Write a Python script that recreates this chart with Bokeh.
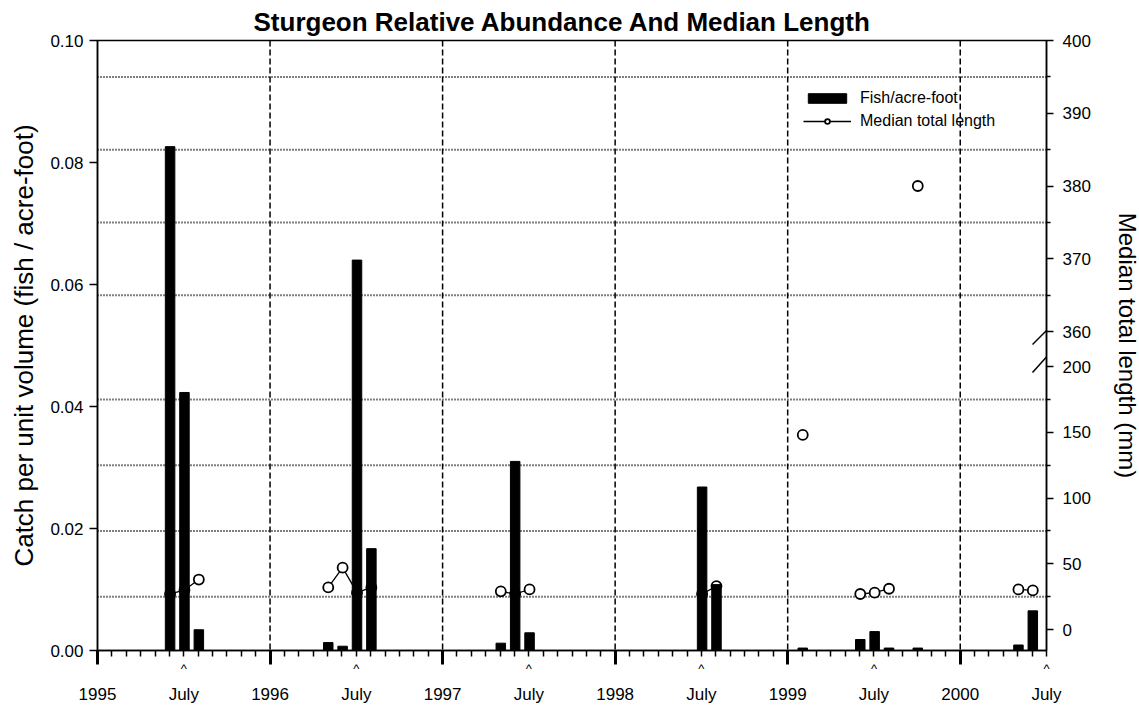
import numpy as np
from bokeh.plotting import figure
from bokeh.models import (Range1d, LinearAxis, FixedTicker, Span, Legend,
                          LegendItem, Arrow)
from bokeh.embed import file_html
from bokeh.resources import INLINE

# ---------------- data ----------------
sample_year  = [1995, 1995, 1995, 1996, 1996, 1996, 1996, 1997, 1997, 1997,
                1998, 1998, 1999, 1999, 1999, 1999, 1999, 2000, 2000]
sample_month = [6, 7, 8, 5, 6, 7, 8, 5, 6, 7,
                7, 8, 2, 6, 7, 8, 10, 5, 6]
fish_per_acre_foot = [0.0826, 0.0423, 0.0034, 0.0013, 0.0007, 0.0640, 0.0167,
                      0.0012, 0.0310, 0.0029, 0.0268, 0.0108, 0.0004, 0.0018,
                      0.0031, 0.0004, 0.0004, 0.0009, 0.0065]
median_length_mm = [27, 30, 38, 32, 47, 28, 32, 29, 27, 30.5,
                    27, 33, 148, 27, 28, 31, 380, 30.5, 29.7]

years = [1995, 1996, 1997, 1998, 1999, 2000]
left_ticks = [0.0, 0.02, 0.04, 0.06, 0.08, 0.10]
left_tick_labels = ["0.00", "0.02", "0.04", "0.06", "0.08", "0.10"]
right_major_ticks = [0, 50, 100, 150, 200, 360, 370, 380, 390, 400]
right_minor_ticks = [25, 75, 125, 175, 365, 375, 385, 395]

title = "Sturgeon Relative Abundance And Median Length"
left_title = "Catch per unit volume (fish / acre-foot)"
right_title = "Median total length (mm)"
FONT = "Liberation Sans"

# ---------------- broken right axis mapping ----------------
def len_to_disp(L):
    L = np.asarray(L, dtype=float)
    return np.where(L <= 280, 21 + 1.315 * L, 319 + 7.275 * (L - 360))

x = np.array(sample_year) + (np.array(sample_month) - 1) / 12.0 + 0.004
disp = len_to_disp(median_length_mm)

# line: break where samples are not in consecutive months
lx, ly = [], []
for i in range(len(x)):
    if i > 0:
        gap = (sample_year[i] - sample_year[i - 1]) * 12 + sample_month[i] - sample_month[i - 1]
        if gap != 1:
            lx.append(np.nan); ly.append(np.nan)
    lx.append(x[i]); ly.append(disp[i])

p = figure(frame_width=949, frame_height=610,
           x_range=Range1d(1995, 2000.5), y_range=Range1d(0, 0.1),
           output_backend="svg", toolbar_location=None,
           x_axis_location=None,
           min_border_left=97, min_border_right=88, min_border_top=30,
           min_border_bottom=0)
p.extra_y_ranges = {"len": Range1d(0, 610)}
p.xgrid.visible = False
p.ygrid.visible = False
p.outline_line_color = "black"
p.outline_line_width = 1.5
p.background_fill_color = "white"
p.border_fill_color = "white"

p.title.text = title
p.title.align = "left"
p.title.offset = 156
p.title.standoff = 8
p.title.text_font = FONT
p.title.text_font_size = "26px"
p.title.text_font_style = "bold"
p.title.text_color = "black"

# gridlines
for yv in len_to_disp(right_minor_ticks):
    p.add_layout(Span(location=float(yv), dimension="width", y_range_name="len",
                      line_color="black", line_width=2, line_dash="1 2",
                      level="underlay"))
for yr in years[1:]:
    p.add_layout(Span(location=yr, dimension="height", line_color="black",
                      line_width=1.5, line_dash="6 3", level="underlay"))

# median length (drawn under bars)
lr = p.line(lx, ly, y_range_name="len", line_color="black", line_width=1.3)
cr = p.scatter(x, disp, y_range_name="len", marker="circle", size=10,
               fill_color="white", line_color="black", line_width=1.8)

# bars
br = p.vbar(x=x, top=fish_per_acre_foot, width=0.055, bottom=0,
            fill_color="black", line_color="black")

# ---------------- axes ----------------
yl = p.yaxis[0]
yl.ticker = FixedTicker(ticks=left_ticks)
yl.major_label_overrides = {t: s for t, s in zip(left_ticks, left_tick_labels)}
yl.major_tick_out = 8
yl.major_tick_in = 0
yl.minor_tick_line_color = None
yl.axis_line_width = 1.5
yl.major_tick_line_width = 1.5
yl.major_label_text_font = FONT
yl.major_label_text_font_size = "17px"
yl.major_label_text_color = "black"
yl.major_label_standoff = 6
yl.axis_label = left_title
yl.axis_label_text_font = FONT
yl.axis_label_text_font_size = "26px"
yl.axis_label_text_font_style = "normal"
yl.axis_label_text_color = "black"
yl.axis_label_standoff = 8

rd = [float(round(v, 3)) for v in len_to_disp(right_major_ticks)]
rm = [float(round(v, 3)) for v in len_to_disp(right_minor_ticks)]
yr_ax = LinearAxis(y_range_name="len",
                   ticker=FixedTicker(ticks=rd, minor_ticks=rm),
                   major_label_overrides={d: str(v) for d, v in zip(rd, right_major_ticks)},
                   major_tick_out=7, major_tick_in=0, minor_tick_out=4, minor_tick_in=0,
                   axis_line_width=1.5, major_tick_line_width=1.5,
                   minor_tick_line_width=1.5, major_label_standoff=9,
                   major_label_text_font=FONT, major_label_text_font_size="17px",
                   major_label_text_color="black",
                   axis_label=right_title, axis_label_text_font=FONT,
                   axis_label_text_font_size="24px", axis_label_text_color="black",
                   axis_label_text_font_style="normal", axis_label_standoff=20)
p.add_layout(yr_ax, "right")

months_all = [1995 + m / 12.0 for m in range(0, 67)]
julys = [y + 0.5 for y in years]

ax_ticks = LinearAxis(ticker=FixedTicker(ticks=years, minor_ticks=months_all),
                      major_tick_out=14, major_tick_in=0, major_tick_line_width=3,
                      minor_tick_out=6, minor_tick_in=0, minor_tick_line_width=1.5,
                      axis_line_width=1.5,
                      major_label_overrides={y: "" for y in years},
                      major_label_text_font_size="1px",
                      major_label_standoff=0)
ax_caret = LinearAxis(ticker=FixedTicker(ticks=julys), axis_line_color=None,
                      major_tick_line_color=None, minor_tick_line_color=None,
                      major_label_overrides={j: "^" for j in julys},
                      major_label_text_font=FONT, major_label_text_font_size="13px",
                      major_label_text_color="black",
                      major_label_standoff=-10)
lab_ticks = sorted(years + julys)
ax_lab = LinearAxis(ticker=FixedTicker(ticks=lab_ticks), axis_line_color=None,
                    major_tick_line_color=None, minor_tick_line_color=None,
                    major_label_overrides={t: ("July" if t % 1 else str(int(t))) for t in lab_ticks},
                    major_label_text_font=FONT, major_label_text_font_size="17px",
                    major_label_text_color="black",
                    major_label_standoff=0)
p.add_layout(ax_ticks, "below")
p.add_layout(ax_caret, "below")
p.add_layout(ax_lab, "below")

# axis break marks
bx0, bx1 = 2000.5 - 14 / 172.6, 2000.5 + 11 / 172.6
for y0, y1 in [(306, 331), (278, 306)]:
    p.add_layout(Arrow(start=None, end=None, x_start=bx0, y_start=y0,
                       x_end=bx1, y_end=y1, y_range_name="len",
                       line_color="black", line_width=1.5))

legend = Legend(items=[LegendItem(label="Fish/acre-foot", renderers=[br]),
                       LegendItem(label="Median total length", renderers=[lr, cr])],
                location=(706, 520), border_line_color=None,
                background_fill_alpha=0, padding=0, margin=0,
                glyph_width=48, glyph_height=12, label_standoff=9, spacing=5,
                label_text_font=FONT, label_text_font_size="16px",
                label_text_color="black")
p.add_layout(legend, "center")

open("out.html", "w").write(file_html(p, INLINE))
